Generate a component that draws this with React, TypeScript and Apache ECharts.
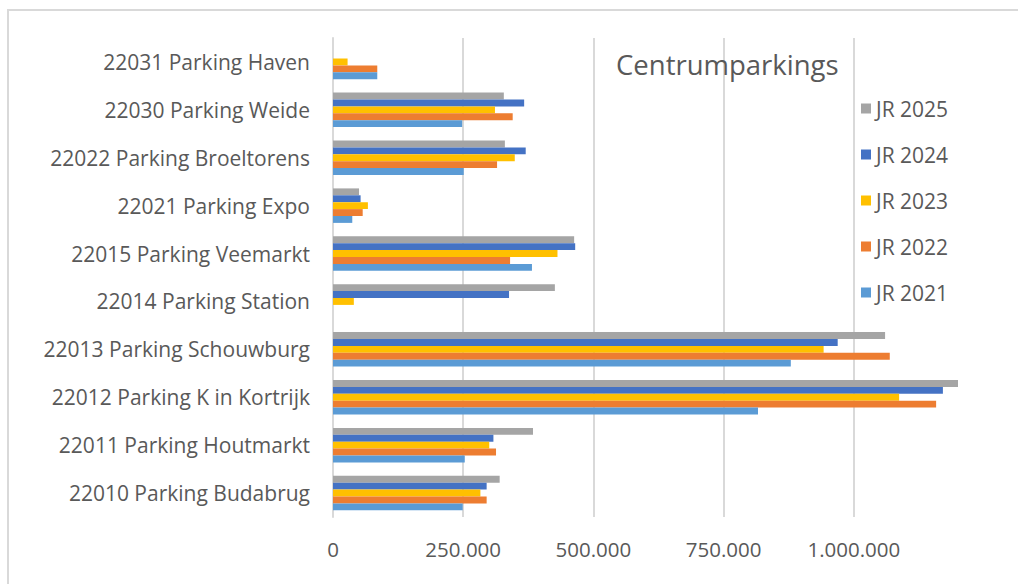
import React, { useEffect, useRef } from "react";
import * as echarts from "echarts";

const categories = [
  "22010 Parking Budabrug",
  "22011 Parking Houtmarkt",
  "22012 Parking K in Kortrijk",
  "22013 Parking Schouwburg",
  "22014 Parking Station",
  "22015 Parking Veemarkt",
  "22021 Parking Expo",
  "22022 Parking Broeltorens",
  "22030 Parking Weide",
  "22031 Parking Haven",
];

const jr2021 = [249000, 253000, 816000, 879000, null, 382000, 37000, 251000, 248000, 85000];
const jr2022 = [295000, 313000, 1158000, 1069000, null, 340000, 57000, 315000, 345000, 85000];
const jr2023 = [283000, 300000, 1087000, 942000, 40000, 431000, 67000, 349000, 311000, 28000];
const jr2024 = [295000, 308000, 1171000, 969000, 338000, 465000, 53000, 370000, 367000, null];
const jr2025 = [320000, 384000, 1202000, 1060000, 426000, 463000, 50000, 330000, 328000, null];

// drawn top-to-bottom within each group
const seriesNames = ["JR 2025", "JR 2024", "JR 2023", "JR 2022", "JR 2021"];
const seriesData = [jr2025, jr2024, jr2023, jr2022, jr2021];
const seriesColors = ["#a5a5a5", "#4472c4", "#ffc000", "#ed7d31", "#5b9bd5"];
const legendOrder = ["JR 2025", "JR 2024", "JR 2023", "JR 2022", "JR 2021"];

const FONT = "Open Sans";
const TXT = "#595959";

function fmt(v: number): string {
  return String(Math.round(v)).replace(/\B(?=(\d{3})+(?!\d))/g, ".");
}

export default function App() {
  const ref = useRef<HTMLDivElement>(null);
  useEffect(() => {
    if (!ref.current) return;
    const chart = echarts.init(ref.current, null, { renderer: "svg" });
    chart.setOption({
      animation: false,
      backgroundColor: "#ffffff",
      title: {
        text: "Centrumparkings",
        left: 611,
        top: 45,
        textStyle: { fontFamily: FONT, fontSize: 27.5, fontWeight: "normal", color: TXT },
      },
      legend: {
        data: legendOrder,
        orient: "vertical",
        left: 856,
        top: 93,
        itemWidth: 10,
        itemHeight: 10,
        itemGap: 25,
        icon: "rect",
        textStyle: { fontFamily: FONT, fontSize: 21, color: TXT },
      },
      grid: { left: 333, right: 60, top: 38, bottom: 67, containLabel: false },
      xAxis: {
        type: "value",
        min: 0,
        max: 1200000,
        interval: 250000,
        axisLine: { show: false },
        axisTick: { show: false },
        splitLine: { show: true, showMaxLine: false, lineStyle: { color: "#d9d9d9", width: 2 } },
        axisLabel: {
          showMaxLabel: false,
          margin: 21,
          fontFamily: FONT,
          fontSize: 20.5,
          color: TXT,
          formatter: (v: number) => (v % 250000 === 0 ? fmt(v) : ""),
        },
      },
      yAxis: {
        type: "category",
        data: categories,
        axisLine: { show: true, lineStyle: { color: "#d9d9d9", width: 2 } },
        axisTick: { show: false },
        axisLabel: { margin: 23, fontFamily: FONT, fontSize: 21, color: TXT },
      },
      series: seriesNames.map((name, i) => ({
        name,
        type: "bar",
        data: seriesData[i],
        barGap: "0%",
        barCategoryGap: "28%",
        itemStyle: { color: seriesColors[i] },
      })),
      graphic: [
        {
          type: "rect",
          shape: { x: 8, y: 10, width: 1200, height: 800 },
          style: { fill: "none", stroke: "#d9d9d9", lineWidth: 2 },
          silent: true,
          z: -1,
        },
      ],
    });
    return () => chart.dispose();
  }, []);
  return (
    <div style={{ position: "fixed", left: 0, top: 0, width: 1018, height: 584, background: "#fff" }}>
      <div ref={ref} style={{ width: 1018, height: 584 }} />
    </div>
  );
}
